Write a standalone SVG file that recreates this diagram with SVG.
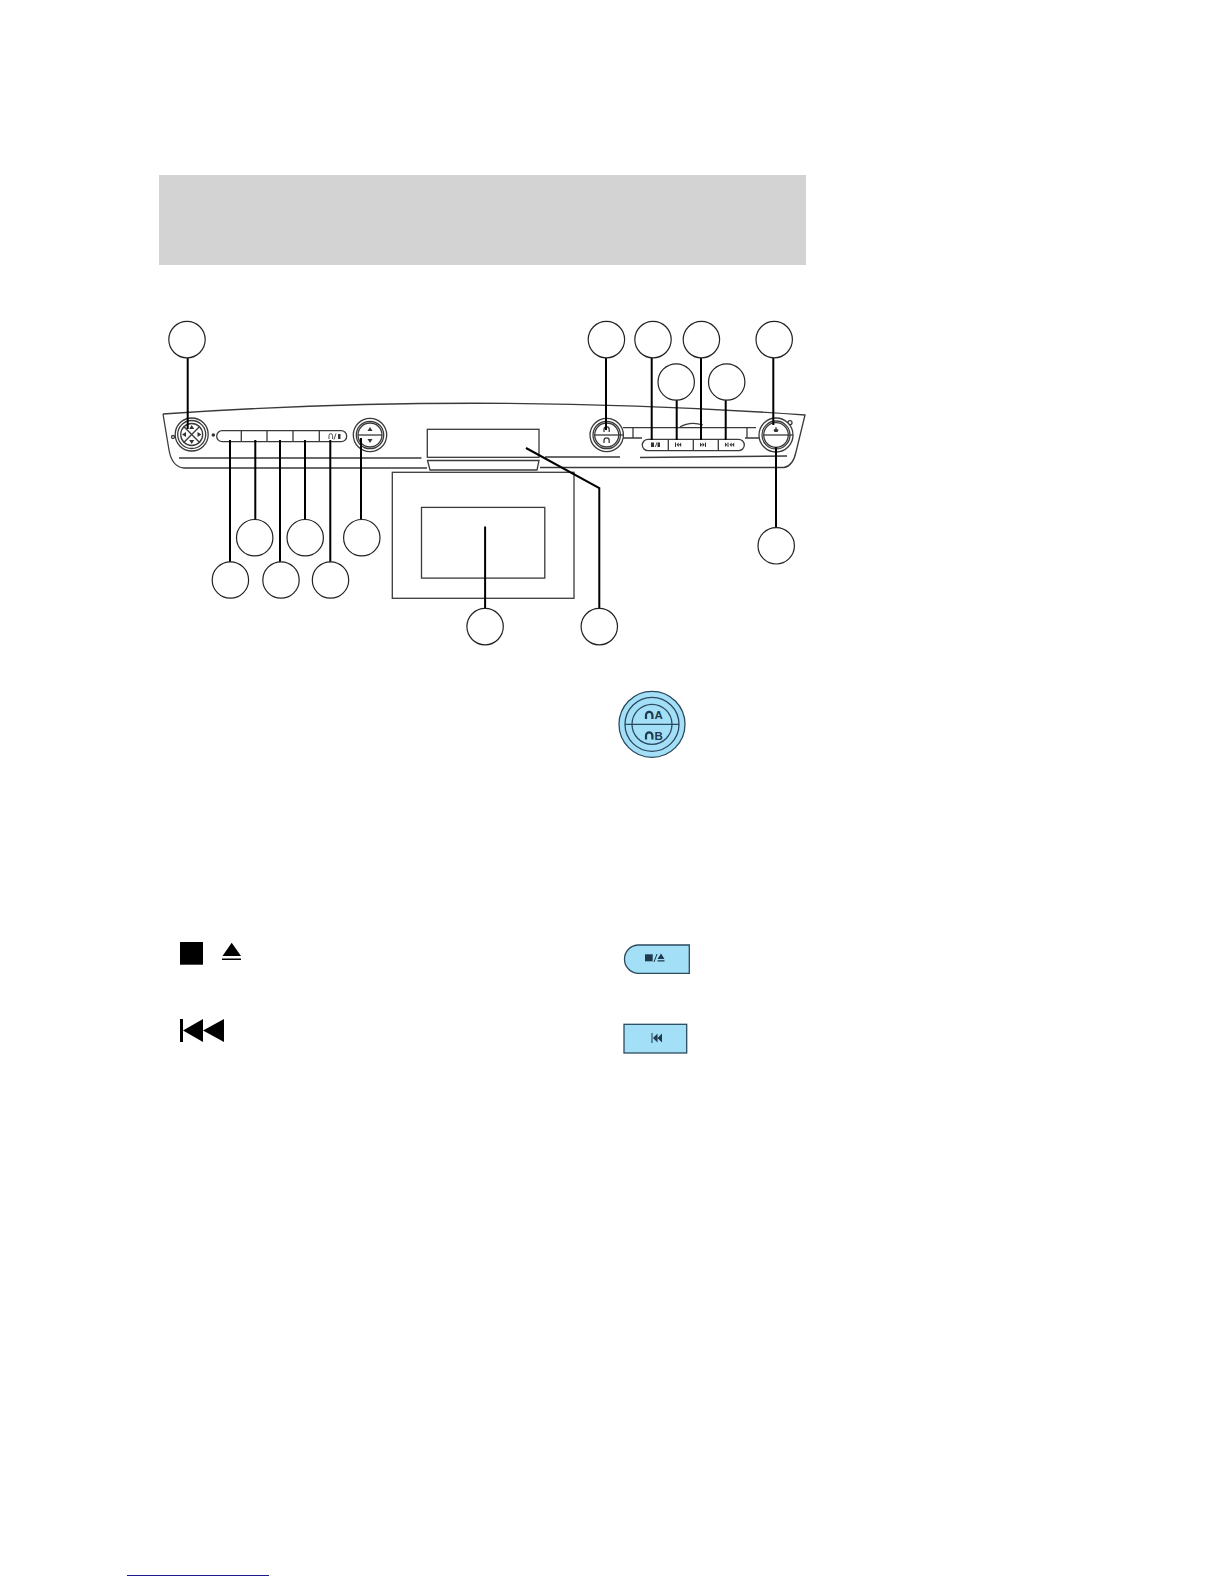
<svg xmlns="http://www.w3.org/2000/svg" width="1224" height="1584" viewBox="0 0 1224 1584">
<style>
.o{fill:none;stroke:#3a3a3a;stroke-width:1.3}
.p{fill:#fff;stroke:#3a3a3a;stroke-width:1.3}
.t{fill:#333;stroke:none}
.c{fill:#fff;stroke:#222;stroke-width:1.2}
.l{fill:none;stroke:#000;stroke-width:2}
.b{fill:#a3dff7;stroke:#2b4a5e;stroke-width:1.3}
.k{fill:#000}
.g{fill:#1f3a4d}
.h{fill:none;stroke:#1f3a4d;stroke-width:2.2}
.s{fill:none;stroke:#1f3a4d;stroke-width:1}
.m{font-family:"Liberation Sans",Arial,sans-serif;font-weight:700;font-size:11.5px;fill:#1f3a4d}
</style>
<rect width="1224" height="1584" fill="#fff"/>
<rect id="header" x="159" y="175" width="647" height="90" fill="#d3d3d3"/>
<g id="panel">
<path class="o" d="M163 414Q480 392 805 415L796 452Q793 466 784 467.5H540M427 468H184Q172 467 169 450L163 414"/>
<path class="o" d="M179 458H421.5M545 457H620M640 457.5L787 456"/>
<path class="o" d="M623 427.7H756M633 428V438M747 428V438M623 438H642M745 438H760M680 427Q690 421 703 425"/>
<circle class="o" cx="790" cy="422.7" r="2"/>
<circle class="o" cx="173" cy="437" r="1.5"/>
<circle class="t" cx="213.3" cy="435" r="1.8"/>
</g>
<g id="knob-left">
<circle class="p" cx="191.7" cy="434.5" r="16.5"/><circle class="o" cx="191.7" cy="434.5" r="14"/><circle class="o" cx="191.7" cy="434.5" r="11"/>
<path class="o" d="M183.5 426.3L199.9 442.7M199.9 426.3L183.5 442.7"/>
<path class="t" d="M191.7 425l2.5 4h-5zM191.7 444l2.5-4h-5zM182 434.5l4-2.5v5zM201.5 434.5l-4-2.5v5z"/>
</g>
<g id="buttons-left">
<rect class="p" x="216.7" y="430.7" width="130" height="11" rx="5.5"/>
<path class="o" d="M241.3 431V441.5M267 431V441.5M293 431V441.5M319.3 431V441.5"/>
<path class="o" style="stroke-width:.9" d="M329 439V435.5A1.8 1.8 0 0 1 332.6 435.5V439M334 439.5L336 433.5"/>
<path class="t" d="M338 434h2.5v5H338z"/>
</g>
<g id="knob-mid">
<circle class="p" cx="370" cy="435" r="16.7"/><circle class="o" cx="370" cy="435" r="13.7"/><circle class="o" cx="370" cy="435" r="12"/>
<path class="o" d="M358 435H382"/>
<path class="t" d="M370 427l2.5 4h-5zM370 443l2.5-4h-5z"/>
</g>
<g id="display">
<rect class="p" x="427.3" y="429.3" width="111.7" height="28"/>
<path class="p" d="M427.5 460.5H539L537 470H430Z"/>
</g>
<g id="screen">
<rect class="p" x="392.3" y="472.3" width="181.7" height="126"/>
<rect class="p" x="421.5" y="507.4" width="123.3" height="70.7"/>
</g>
<g id="knob-a">
<circle class="p" cx="606.7" cy="435" r="16.7"/><circle class="o" cx="606.7" cy="435" r="13.7"/><circle class="o" cx="606.7" cy="435" r="12"/>
<path class="o" d="M594 435H623"/>
<path class="o" d="M604 432V429.5A2.6 2.6 0 0 1 609.2 429.5V432M604 443V440.5A2.6 2.6 0 0 1 609.2 440.5V443"/>
</g>
<g id="buttons-right">
<rect class="p" x="642.3" y="439.3" width="102" height="11.4" rx="5.7"/>
<path class="o" d="M668.3 439.5V450.5M693.3 439.5V450.5M718.3 439.5V450.5"/>
<path class="t" d="M651 442.5h3v4.5h-3zM655 447l1.5-4.5h.8L655.8 447zM657.5 442.5h2.5v4.5h-2.5zM675 442.5h1v4.5h-1zM676.5 444.7l2.2-2.2v4.5zM679 444.7l2.2-2.2v4.5zM700 442.5l2.2 2.2-2.2 2.2zM702.5 442.5l2.2 2.2-2.2 2.2zM705 442.5h1v4.5h-1zM725 442.5l2.2 2.2-2.2 2.2zM727.5 442.5h1v4.5h-1zM729.5 444.7l2.2-2.2v4.5zM732 444.7l2.2-2.2v4.5z"/>
</g>
<g id="knob-power">
<circle class="p" cx="776" cy="435" r="17"/><circle class="o" cx="776" cy="435" r="14"/><circle class="o" cx="776" cy="435" r="12.3"/>
<path class="o" d="M764 435H793"/>
<path class="t" d="M775.5 427h1v1.5l2 1.5-1 2h-3l-1-2 2-1.5z"/>
</g>
<g id="connectors">
<path class="l" d="M187.7 358V429M230 440V562M255.3 440V520M280 440V562M305 440V520M330.3 440V562M361 438V520M606 358V430M651.7 358V440M676.7 400V440M701 358V440M725.7 400V440M773.3 358V425M776 447V527.5M485.1 526.6V608.5M526 448L599.3 488V608.5"/>
</g>
<g id="callout-1"><circle class="c" cx="187" cy="339.6" r="18.2"/></g>
<g id="callout-2"><circle class="c" cx="606.4" cy="339.6" r="18.2"/></g>
<g id="callout-3"><circle class="c" cx="653" cy="339.6" r="18.2"/></g>
<g id="callout-4"><circle class="c" cx="701.4" cy="339.6" r="18.2"/></g>
<g id="callout-5"><circle class="c" cx="774.2" cy="339.6" r="18.2"/></g>
<g id="callout-6"><circle class="c" cx="676.2" cy="382" r="18.2"/></g>
<g id="callout-7"><circle class="c" cx="726.7" cy="382" r="18.2"/></g>
<g id="callout-8"><circle class="c" cx="776.2" cy="545.8" r="18.2"/></g>
<g id="callout-9"><circle class="c" cx="254.7" cy="537.7" r="18.2"/></g>
<g id="callout-10"><circle class="c" cx="305.2" cy="537.7" r="18.2"/></g>
<g id="callout-11"><circle class="c" cx="361.8" cy="537.7" r="18.2"/></g>
<g id="callout-12"><circle class="c" cx="230.4" cy="580" r="18.2"/></g>
<g id="callout-13"><circle class="c" cx="281" cy="580" r="18.2"/></g>
<g id="callout-14"><circle class="c" cx="330.5" cy="580" r="18.2"/></g>
<g id="callout-15"><circle class="c" cx="485.1" cy="626.6" r="18.2"/></g>
<g id="callout-16"><circle class="c" cx="599.3" cy="626.6" r="18.2"/></g>
<g id="icon-headphones">
<circle class="b" cx="652" cy="724.3" r="33"/>
<circle class="b" cx="652" cy="724.3" r="27"/>
<circle class="b" cx="652" cy="724.3" r="20"/>
<path class="b" style="fill:none" d="M625 724.3H679"/>
<path class="h" d="M646 719V715A3.2 3.2 0 0 1 652.4 715V719"/>
<path class="h" d="M646 739.5V735.5A3.2 3.2 0 0 1 652.4 735.5V739.5"/>
<text class="m" x="654.5" y="719">A</text>
<text class="m" x="654.5" y="739.5">B</text>
</g>
<g id="icon-stop-eject">
<path class="b" d="M689.3 945V973.3H637.5A14.2 14.2 0 0 1 637.5 945Z"/>
<rect class="g" x="645" y="954.3" width="7.7" height="7"/>
<path class="s" d="M654 962L657 954"/>
<path class="g" d="M661 953.5l3.5 5.5h-7zM657.5 960.3h7v1.2h-7z"/>
</g>
<g id="icon-prev">
<rect class="b" x="624" y="1024.3" width="62.7" height="28.7"/>
<path class="g" d="M651.5 1033h1v10h-1zM653 1038l4.5-4.5v9zM657.5 1038l4.5-4.5v9z"/>
</g>
<g id="symbol-stop-eject">
<rect class="k" x="180" y="942" width="23" height="22.7"/>
<path class="k" d="M231.7 942.7L241 956H222.5ZM222 958.5H241V960H222Z"/>
</g>
<g id="symbol-prev">
<path class="k" d="M180 1019h3v23h-3zM183 1030.5L203 1019V1042ZM203 1030.5L224 1019V1042Z"/>
</g>
<path id="footer-link" d="M127 1575.5H269" stroke="#1a1a8c" stroke-width="1.2"/>
</svg>
